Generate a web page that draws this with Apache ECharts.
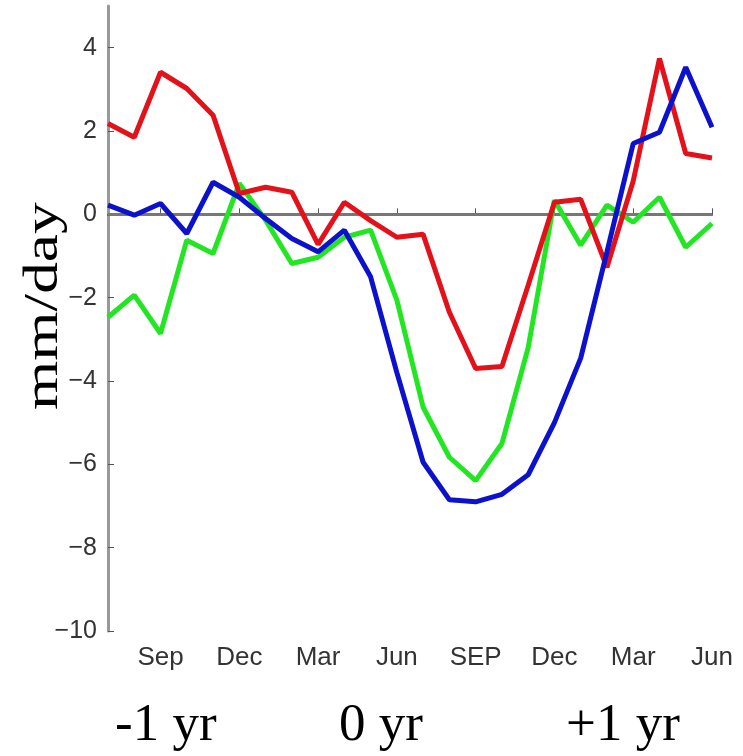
<!DOCTYPE html>
<html>
<head>
<meta charset="utf-8">
<script src="https://cdn.jsdelivr.net/npm/echarts@6/dist/echarts.min.js"></script>
<style>
  html, body { margin: 0; padding: 0; background: #fff; }
  #chart { width: 743px; height: 756px; }
</style>
</head>
<body>
<div id="chart"></div>
<script>
// months from Jul (-1 yr) to Jun (+1 yr)
var months = ['Jul', 'Aug', 'Sep', 'Oct', 'Nov', 'Dec', 'Jan', 'Feb', 'Mar', 'Apr', 'May', 'Jun',
              'Jul', 'Aug', 'SEP', 'Oct', 'Nov', 'Dec', 'Jan', 'Feb', 'Mar', 'Apr', 'May', 'Jun'];

var redValues = [2.18, 1.85, 3.41, 3.02, 2.38, 0.5, 0.65, 0.53, -0.72, 0.29, -0.15, -0.55,
                 -0.48, -2.35, -3.7, -3.65, -1.7, 0.29, 0.36, -1.27, 0.8, 3.74, 1.46, 1.35];
var greenValues = [-2.47, -1.94, -2.86, -0.62, -0.94, 0.74, -0.14, -1.18, -1.03, -0.55, -0.38, -2.06,
                   -4.63, -5.83, -6.39, -5.5, -3.2, 0.34, -0.74, 0.22, -0.19, 0.41, -0.79, -0.22];
var blueValues = [0.22, -0.02, 0.26, -0.46, 0.77, 0.41, -0.1, -0.58, -0.9, -0.38, -1.5, -3.8,
                  -5.95, -6.85, -6.9, -6.72, -6.25, -5.0, -3.45, -0.9, 1.7, 1.97, 3.53, 2.09];

var yearLabels = ['-1 yr', '0 yr', '+1 yr'];
var yName = 'mm/day';

var showTick = function (idx) { return (idx - 2) % 3 === 0; };

var lineSeries = function (name, data, color) {
    return {
        name: name,
        type: 'line',
        data: data,
        symbol: 'none',
        lineStyle: { color: color, width: 5 },
        itemStyle: { color: color }
    };
};

// big serif text (year labels and the y title)
var serifText = function (text, x, y, rot, stretch, size) {
    return {
        type: 'text',
        x: x, y: y,
        rotation: rot,
        scaleX: stretch,
        style: {
            text: text,
            fontFamily: 'Liberation Serif',
            fontSize: size,
            fill: '#000',
            align: 'left',
            verticalAlign: 'top'
        }
    };
};

var chart = echarts.init(document.getElementById('chart'));

var series = [
    lineSeries('green', greenValues, '#22e622'),
    lineSeries('red', redValues, '#e3121a'),
    lineSeries('blue', blueValues, '#0c12cc')
];
// zero line
series[0].markLine = {
    silent: true,
    symbol: 'none',
    label: { show: false },
    lineStyle: { color: '#777', width: 3, type: 'solid' },
    data: [{ yAxis: 0 }],
    z: 1
};

var option = {
    backgroundColor: '#fff',
    animation: false,
    grid: { left: 108, right: 31, top: 6, bottom: 125, containLabel: false, outerBoundsMode: 'none' },
    xAxis: {
        type: 'category',
        data: months,
        boundaryGap: false,
        axisLine: { lineStyle: { color: '#555', width: 2 } },
        axisTick: { inside: true, length: 6, interval: showTick, lineStyle: { color: '#555' } },
        axisLabel: {
            interval: showTick,
            color: '#333',
            fontFamily: 'Liberation Sans, Arial, sans-serif',
            fontSize: 26,
            margin: 14
        },
        splitLine: { show: false }
    },
    yAxis: {
        type: 'value',
        min: -10,
        max: 5,
        interval: 2,
        axisLine: { show: true, lineStyle: { color: '#999', width: 3 } },
        axisTick: { show: true, inside: true, length: 6, lineStyle: { color: '#555' } },
        axisLabel: {
            showMaxLabel: false,
            color: '#333',
            fontFamily: 'Liberation Sans, Arial, sans-serif',
            fontSize: 25,
            margin: 11,
            formatter: function (v) { return v === 5 ? '' : String(v).replace('-', '\u2212'); }
        },
        splitLine: { show: false }
    },
    graphic: [
        serifText(yName, 20, 410, Math.PI / 2, 1.32, 48),
        serifText(yearLabels[0], 115, 700, 0, 1, 53),
        serifText(yearLabels[1], 339, 700, 0, 1, 53),
        serifText(yearLabels[2], 566, 700, 0, 1, 53)
    ],
    series: series
};

chart.setOption(option);
</script>
</body>
</html>
